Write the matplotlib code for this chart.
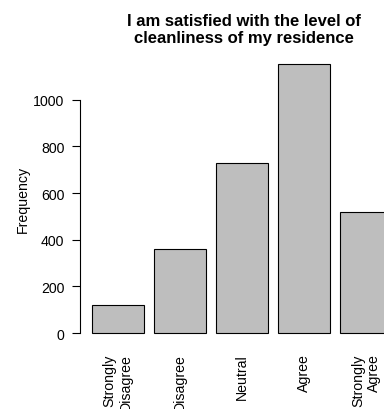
import matplotlib
matplotlib.use("Agg")
import matplotlib.pyplot as plt

categories = ["Strongly\nDisagree", "Disagree", "Neutral", "Agree", "Strongly\nAgree"]
counts = [121, 360, 729, 1154, 519]
yticks = [0, 200, 400, 600, 800, 1000]

plt.rcParams['font.family'] = ['Liberation Sans', 'DejaVu Sans']

fig = plt.figure(figsize=(3.84, 4.10), dpi=100)
# plot region runs past the right edge, like the cropped R barplot
ax = fig.add_axes([79.6 / 384, 1 - 344.8 / 410, 335 / 384, (344.8 - 54.1) / 410])

# R barplot positions: width 1, space 0.2
xs = [0.7 + 1.2 * i for i in range(len(counts))]
ax.bar(xs, counts, width=1.0, color="#BEBEBE", edgecolor="black", linewidth=0.8)

top = max(counts)
ax.set_xlim(-0.04, 6.44)
ax.set_ylim(-0.04 * top, 1.04 * top)

for s in ["top", "right", "bottom"]:
    ax.spines[s].set_visible(False)
ax.spines["left"].set_bounds(0, 1000)
ax.spines["left"].set_linewidth(0.8)

ax.set_yticks(yticks)
ax.set_yticklabels([str(v) for v in yticks], fontsize=10.2)
ax.tick_params(axis="y", length=6, width=0.8, pad=5)

ax.set_xticks(xs)
ax.set_xticklabels(categories, rotation=90, fontsize=10.2, va="top", ha="center",
                   multialignment="right")
ax.tick_params(axis="x", length=0, pad=7)

ax.set_ylabel("Frequency", fontsize=10.2, labelpad=2)

fig.text(244 / 384, 1 - 30 / 410,
         "I am satisfied with the level of\ncleanliness of my residence",
         ha="center", va="center", fontsize=12, fontweight="bold", linespacing=1.15)

fig.savefig("out.png", dpi=100)
